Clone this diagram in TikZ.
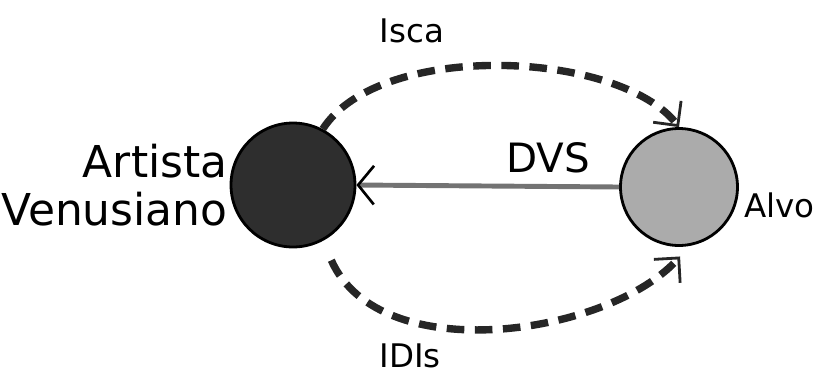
\documentclass[tikz,border=0pt]{standalone}
\usepackage{fontspec}
\setmainfont{DejaVu Sans}
\usetikzlibrary{arrows.meta,positioning}

\begin{document}
\begin{tikzpicture}[x=0.02cm, y=-0.02cm,
	planet/.style={circle, draw=black, line width=1.6pt},
	lure/.style={line width=4.2pt, black!85, dash pattern=on 10pt off 6pt,
		-{Straight Barb[length=10pt,width=20pt,line width=1.6pt]}},
	tag/.style={inner sep=0pt, text=black, font=\fontsize{18.5}{22}\selectfont}]
	\useasboundingbox (0,0) rectangle (814,373);

	\node[planet, fill=black!82, minimum size=2.48cm] (artista) at (293,185) {};
	\node[planet, fill=black!33, minimum size=2.34cm] (alvo)    at (679,187) {};

	\node[inner sep=0pt, align=right, font=\fontsize{25}{27}\selectfont,
		left=1pt of artista] (artlbl) {Artista\\Venusiano};
	\node[tag, anchor=west] (alvolbl) at (744,205) {Alvo};

	\draw [line width=2.8pt, black!55,
		-{Straight Barb[length=9pt,width=22pt,line width=1.5pt,color=black]}]
		(alvo.west) -- (artista.east) node [pos=0.27, above=3pt, black,
		font=\fontsize{23}{26}\selectfont] (dvs) {DVS};

	\draw [lure] (artista.62) .. controls (380,40) and (620,50) .. (alvo.north)
		node [tag] (isca) at (412,31) {Isca};
	\draw [lure, shorten <=12pt, shorten >=8pt]
		(artista.-62) .. controls (380,370) and (610,335) .. (alvo.-80)
		node [tag] (idis) at (410,356) {IDIs};
\end{tikzpicture}
\end{document}
